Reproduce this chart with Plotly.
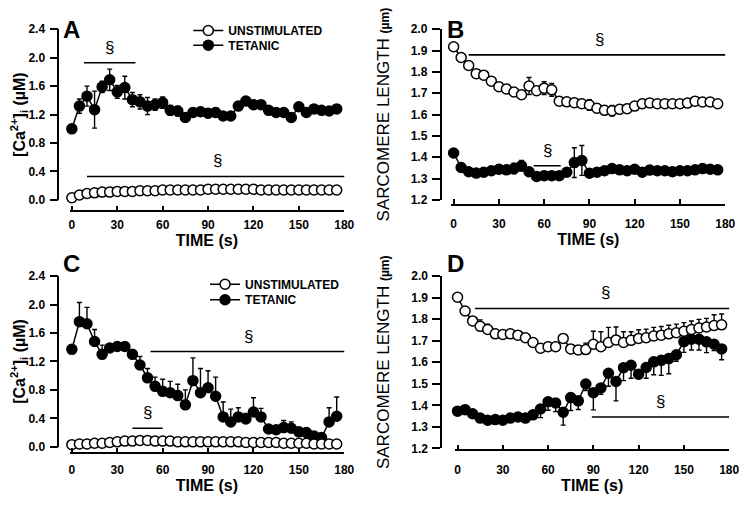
import plotly.graph_objects as go

# ---------------- data ----------------
time_s = [0, 5, 10, 15, 20, 25, 30, 35, 40, 45, 50, 55, 60, 65, 70, 75, 80, 85,
          90, 95, 100, 105, 110, 115, 120, 125, 130, 135, 140, 145, 150, 155, 160, 165, 170, 175]

# Panel A  [Ca2+]i (uM)
a_unstim = [0.03, 0.07, 0.09, 0.10, 0.11, 0.11, 0.12, 0.12, 0.12, 0.13, 0.13, 0.13,
            0.14, 0.14, 0.14, 0.14, 0.14, 0.14, 0.15, 0.15, 0.15, 0.15, 0.15, 0.15,
            0.15, 0.14, 0.14, 0.14, 0.14, 0.14, 0.14, 0.14, 0.14, 0.14, 0.14, 0.14]
a_tet = [1.00, 1.32, 1.46, 1.27, 1.59, 1.69, 1.52, 1.58, 1.41, 1.38, 1.32, 1.34,
         1.37, 1.26, 1.25, 1.16, 1.23, 1.24, 1.22, 1.23, 1.18, 1.18, 1.32, 1.39,
         1.34, 1.34, 1.26, 1.23, 1.23, 1.16, 1.31, 1.23, 1.28, 1.26, 1.25, 1.28]
a_tet_err = [0.05, 0.10, 0.14, 0.26, 0.08, 0.15, 0.09, 0.16, 0.10, 0.10, 0.12, 0.08,
             0.08, 0.07, 0.07, 0.06, 0.06, 0.06, 0.06, 0.06, 0.06, 0.06, 0.05, 0.05,
             0.05, 0.04, 0.03, 0.02, 0.02, 0.02, 0.02, 0.02, 0.02, 0.02, 0.02, 0.02]

# Panel B  sarcomere length (um)
b_unstim = [1.918, 1.868, 1.830, 1.792, 1.785, 1.757, 1.731, 1.720, 1.706, 1.693, 1.734, 1.712,
            1.724, 1.716, 1.663, 1.660, 1.656, 1.651, 1.645, 1.630, 1.620, 1.618, 1.625, 1.628,
            1.640, 1.651, 1.655, 1.651, 1.651, 1.651, 1.651, 1.654, 1.663, 1.659, 1.659, 1.651]
b_unstim_err = [0.01, 0.01, 0.01, 0.01, 0.01, 0.01, 0.01, 0.01, 0.01, 0.012, 0.04, 0.01,
                0.03, 0.03, 0.01, 0.01, 0.015, 0.02, 0.025, 0.02, 0.02, 0.025, 0.02, 0.02,
                0.02, 0.02, 0.02, 0.01, 0.01, 0.01, 0.01, 0.01, 0.01, 0.01, 0.01, 0.01]
b_tet = [1.420, 1.352, 1.332, 1.326, 1.330, 1.337, 1.344, 1.341, 1.347, 1.360, 1.332, 1.310,
         1.314, 1.314, 1.314, 1.330, 1.375, 1.385, 1.325, 1.330, 1.337, 1.347, 1.341, 1.337,
         1.344, 1.330, 1.340, 1.337, 1.337, 1.332, 1.337, 1.337, 1.341, 1.347, 1.344, 1.341]
b_tet_err = [0.015, 0.01, 0.005, 0.005, 0.005, 0.01, 0.02, 0.02, 0.025, 0.025, 0.005, 0.005,
             0.005, 0.005, 0.005, 0.005, 0.07, 0.07, 0.005, 0.005, 0.005, 0.005, 0.005, 0.01,
             0.005, 0.005, 0.005, 0.005, 0.005, 0.005, 0.005, 0.005, 0.005, 0.005, 0.005, 0.005]

# Panel C  [Ca2+]i (uM)
c_unstim = [0.03, 0.04, 0.04, 0.05, 0.05, 0.06, 0.07, 0.08, 0.08, 0.09, 0.09, 0.08,
            0.08, 0.08, 0.07, 0.07, 0.07, 0.07, 0.07, 0.07, 0.07, 0.07, 0.07, 0.06,
            0.06, 0.06, 0.06, 0.06, 0.05, 0.05, 0.05, 0.05, 0.04, 0.04, 0.04, 0.04]
c_tet = [1.37, 1.76, 1.73, 1.48, 1.30, 1.39, 1.41, 1.41, 1.30, 1.15, 0.97, 0.85,
         0.78, 0.76, 0.72, 0.59, 0.93, 0.76, 0.83, 0.71, 0.42, 0.35, 0.42, 0.39,
         0.49, 0.42, 0.25, 0.24, 0.27, 0.26, 0.21, 0.20, 0.15, 0.13, 0.35, 0.43]
c_tet_err_up = [0.0, 0.27, 0.23, 0.17, 0.13, 0.03, 0.03, 0.03, 0.04, 0.12, 0.13, 0.13,
                0.17, 0.16, 0.16, 0.21, 0.32, 0.34, 0.24, 0.27, 0.21, 0.18, 0.13, 0.08,
                0.20, 0.12, 0.05, 0.04, 0.10, 0.09, 0.05, 0.05, 0.05, 0.06, 0.20, 0.27]

# Panel D  sarcomere length (um)
d_unstim = [1.902, 1.838, 1.792, 1.767, 1.752, 1.732, 1.729, 1.732, 1.726, 1.714, 1.692, 1.665,
            1.672, 1.672, 1.711, 1.662, 1.657, 1.659, 1.684, 1.672, 1.692, 1.704, 1.692, 1.702,
            1.711, 1.714, 1.722, 1.726, 1.732, 1.737, 1.744, 1.752, 1.759, 1.764, 1.771, 1.774]
d_unstim_err_up = [0.0, 0.0, 0.02, 0.03, 0.025, 0.02, 0.0, 0.0, 0.0, 0.0, 0.0, 0.02,
                   0.02, 0.01, 0.01, 0.02, 0.02, 0.03, 0.06, 0.07, 0.07, 0.06, 0.05, 0.04,
                   0.04, 0.04, 0.04, 0.04, 0.04, 0.04, 0.04, 0.04, 0.04, 0.04, 0.05, 0.05]
d_tet = [1.373, 1.380, 1.361, 1.341, 1.331, 1.334, 1.331, 1.341, 1.346, 1.341, 1.356, 1.383,
         1.417, 1.411, 1.368, 1.436, 1.421, 1.499, 1.459, 1.481, 1.549, 1.511, 1.575, 1.586,
         1.545, 1.576, 1.602, 1.609, 1.617, 1.635, 1.696, 1.707, 1.707, 1.695, 1.684, 1.662]
d_tet_err_down = [0.0, 0.0, 0.0, 0.0, 0.0, 0.0, 0.0, 0.0, 0.0, 0.0, 0.02, 0.04,
                  0.04, 0.04, 0.06, 0.06, 0.04, 0.03, 0.08, 0.03, 0.06, 0.09, 0.06, 0.06,
                  0.02, 0.05, 0.06, 0.07, 0.07, 0.03, 0.05, 0.05, 0.05, 0.05, 0.03, 0.05]

# significance bars: (start s, end s, level)
sig_a = [(8, 42, 1.93), (10, 182, 0.33)]
sig_b = [(10, 184, 1.88), (53, 71, 1.36)]
sig_c = [(52, 182, 1.34), (40, 60, 0.26)]
sig_d = [(11.5, 184, 1.85), (89, 180, 1.346)]
sig_mark = "§"

x_ticks = [0, 30, 60, 90, 120, 150, 180]
ca_ticks = [0.0, 0.4, 0.8, 1.2, 1.6, 2.0, 2.4]
sl_ticks = [1.2, 1.3, 1.4, 1.5, 1.6, 1.7, 1.8, 1.9, 2.0]
legend_names = ["UNSTIMULATED", "TETANIC"]
panel_letters = ["A", "B", "C", "D"]

# ---------------- styling ----------------
# the page body has an 8px margin; the figure is sized to fit inside the 750x505 window
OFF = 8
W, H = 750 - OFF, 505 - OFF
FONT = "Liberation Sans, Arial, Helvetica, sans-serif"


def px(v):  # page pixel x -> paper fraction
    return (v - OFF) / W


def py(v):  # page pixel y -> paper fraction
    return 1 - (v - OFF) / H


fig = go.Figure()


def add_series(xa, ya, y, filled, name, err=None, legend="legend", show=False):
    ekw = dict(visible=False)
    if err is not None:
        ekw = dict(type="data", color="black", thickness=1.4, width=2.5, **err)
    fig.add_trace(go.Scatter(
        x=time_s, y=y, mode="lines+markers", name=name,
        xaxis=xa, yaxis=ya, cliponaxis=False,
        line=dict(color="black", width=1.5),
        marker=dict(size=10, color="black" if filled else "white",
                    line=dict(color="black", width=1.5)),
        error_y=ekw, showlegend=show, legend=legend))


zeros = [0] * len(time_s)
# A
add_series("x", "y", a_tet, True, legend_names[1],
           err=dict(array=a_tet_err, symmetric=True), legend="legend3", show=True)
add_series("x", "y", a_unstim, False, legend_names[0], legend="legend", show=True)
# B
add_series("x2", "y2", b_unstim, False, legend_names[0],
           err=dict(array=b_unstim_err, symmetric=True))
add_series("x2", "y2", b_tet, True, legend_names[1],
           err=dict(array=b_tet_err, symmetric=True))
# C
add_series("x3", "y3", c_tet, True, legend_names[1],
           err=dict(array=c_tet_err_up, arrayminus=zeros, symmetric=False),
           legend="legend4", show=True)
add_series("x3", "y3", c_unstim, False, legend_names[0], legend="legend2", show=True)
# D
add_series("x4", "y4", d_tet, True, legend_names[1],
           err=dict(array=zeros, arrayminus=d_tet_err_down, symmetric=False))
add_series("x4", "y4", d_unstim, False, legend_names[0],
           err=dict(array=d_unstim_err_up, arrayminus=zeros, symmetric=False))

tickfont = dict(family=FONT, size=12, color="black", weight="bold")
titlefont = dict(family=FONT, size=16, color="black", weight="bold")
slfont = dict(family=FONT, size=17, color="black", weight="normal")
ca_title = "[Ca<sup>2+</sup>]<sub>i</sub> (µM)"
sl_title = "SARCOMERE LENGTH <b style='font-size:12px'>(µm)</b>"

# panel geometry in page pixels
panels = [
    dict(xd=(69.5, 348.3), yd=(22.7, 198.3), yl=58, xl=210, xso=3, yr=[0, 2.4], yt=ca_ticks,
         title=ca_title, tf=titlefont, tso=6, xts=0),
    dict(xd=(457, 735), yd=(22.7, 198.3), yl=446, xl=203, xso=8, yr=[1.2, 2.0], yt=sl_ticks,
         title=sl_title, tf=slfont, tso=16, xts=0),
    dict(xd=(69.5, 348.3), yd=(276.7, 452.3), yl=58, xl=459, xso=6, yr=[0, 2.4], yt=ca_ticks,
         title=ca_title, tf=titlefont, tso=6, xts=2),
    dict(xd=(461, 739), yd=(276.7, 454), yl=446.7, xl=456, xso=8, yr=[1.2, 2.0], yt=sl_ticks,
         title=sl_title, tf=slfont, tso=16, xts=2),
]

layout = dict(width=W, height=H, margin=dict(l=0, r=0, t=0, b=0),
              paper_bgcolor="white", plot_bgcolor="white",
              font=dict(family=FONT, color="black"))
for i, p in enumerate(panels):
    s = "" if i == 0 else str(i + 1)
    layout["xaxis" + s] = dict(
        domain=[px(p["xd"][0]), px(p["xd"][1])], range=[-1.5, 180],
        anchor="free", position=py(p["xl"]),
        tickvals=x_ticks, ticks="inside", ticklen=5, tickwidth=1.5,
        showline=True, linewidth=1.5, linecolor="black", tickcolor="black",
        showgrid=False, zeroline=False, tickfont=tickfont, ticklabelstandoff=p["xso"],
        title=dict(text="TIME (s)", font=titlefont, standoff=p["xts"]))
    layout["yaxis" + s] = dict(
        domain=[py(p["yd"][1]), py(p["yd"][0])], range=p["yr"],
        anchor="free", position=px(p["yl"]),
        tickvals=p["yt"], tickformat=".1f", ticks="outside", ticklen=8, tickwidth=1.5,
        showline=True, linewidth=1.5, linecolor="black", tickcolor="black",
        showgrid=False, zeroline=False, tickfont=tickfont, ticklabelstandoff=2,
        title=dict(text=p["title"], font=p["tf"], standoff=p["tso"]))

legfont = dict(family=FONT, size=12, color="black", weight="bold")
leg_pos = {"legend": (190, 24), "legend3": (190, 39),
           "legend2": (207, 285), "legend4": (207, 301)}
for k, (lx, ly) in leg_pos.items():
    layout[k] = dict(x=px(lx), y=py(ly), xanchor="left", yanchor="middle",
                     bgcolor="rgba(0,0,0,0)", font=legfont, itemwidth=30)

shapes, annos = [], []
for i, sig in enumerate([sig_a, sig_b, sig_c, sig_d]):
    s = "" if i == 0 else str(i + 1)
    for (x0, x1, lvl) in sig:
        shapes.append(dict(type="line", xref="x" + s, yref="y" + s, x0=x0, x1=x1,
                           y0=lvl, y1=lvl, line=dict(color="black", width=1.6)))
        annos.append(dict(xref="x" + s, yref="y" + s, x=(x0 + x1) / 2, y=lvl,
                          text=sig_mark, showarrow=False, yanchor="bottom", yshift=4,
                          font=dict(family=FONT, size=17, color="black")))

# panel letters: (x centre, top edge) in page pixels
letter_pos = [(71, 8), (461, 8), (71, 249), (461, 249)]
for L, (lx, ly) in zip(panel_letters, letter_pos):
    annos.append(dict(xref="paper", yref="paper", x=px(lx), y=py(ly), text=L,
                      showarrow=False, xanchor="center", yanchor="top", borderpad=0,
                      font=dict(family=FONT, size=24, color="black", weight="bold")))

layout["shapes"] = shapes
layout["annotations"] = annos
fig.update_layout(**layout)
fig.write_html("out.html")
